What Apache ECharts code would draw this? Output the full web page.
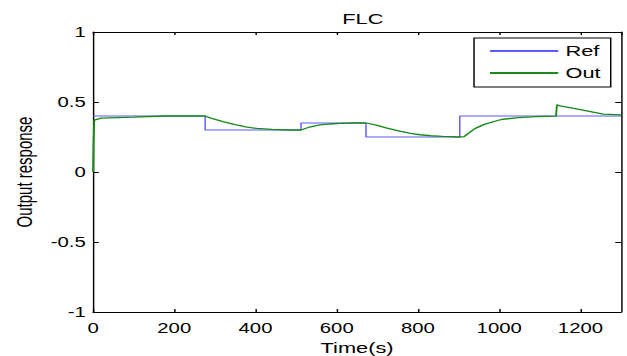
<!DOCTYPE html>
<html>
<head>
<meta charset="utf-8">
<script src="https://cdn.jsdelivr.net/npm/echarts@6/dist/echarts.min.js"></script>
<style>
  html, body { margin: 0; padding: 0; background: #fff; overflow: hidden; }
  /* the original figure is a MATLAB plot stretched sideways, so draw narrow and stretch */
  #chart { width: 432px; height: 356px; transform: scaleX(1.4514); transform-origin: 0 0; }
</style>
</head>
<body>
<div id="chart"></div>
<script>
// reference signal: step changes (time, value)
const refTime = [0, 276, 276, 512, 512, 672, 672, 903, 903, 1300];
const refValue = [0.4, 0.4, 0.3, 0.3, 0.35, 0.35, 0.25, 0.25, 0.4, 0.4];

// FLC output
const outTime = [0, 1, 3, 20, 100, 180, 276, 290, 320, 350, 379, 403, 440, 480, 512, 530, 559, 585, 608, 640, 672, 695, 724, 755, 782, 805, 832, 860, 903, 913, 940, 963, 1005, 1047, 1090, 1140, 1142, 1150, 1200, 1256, 1300];
const outValue = [0, 0.2, 0.37, 0.385, 0.392, 0.4, 0.4, 0.385, 0.36, 0.338, 0.321, 0.311, 0.304, 0.3, 0.3, 0.318, 0.336, 0.343, 0.347, 0.35, 0.35, 0.336, 0.314, 0.292, 0.276, 0.266, 0.259, 0.254, 0.25, 0.252, 0.31, 0.34, 0.375, 0.389, 0.395, 0.399, 0.479, 0.472, 0.445, 0.413, 0.408];

const xTicks = [0, 200, 400, 600, 800, 1000, 1200];
const yTicks = [-1, -0.5, 0, 0.5, 1];

const font = "'Liberation Sans', Arial, sans-serif";
const chart = echarts.init(document.getElementById("chart"), null, { renderer: "svg" });

const pairs = (xs, ys) => xs.map((x, i) => [x, ys[i]]);

const axisLine = { show: true, onZero: false, lineStyle: { color: "#000", width: 1 } };

chart.setOption({
    backgroundColor: "#fff",
    animation: false,
    title: {
        text: "FLC",
        left: 245,
        top: 6,
        textAlign: "center",
        textStyle: { fontFamily: font, fontSize: 15, fontWeight: "normal", color: "#000" },
    },
    legend: {
        left: 326.6,
        top: 38,
        orient: "vertical",
        data: ["Ref", "Out"],
        backgroundColor: "#fff",
        borderColor: "#000",
        borderWidth: 1,
        borderRadius: 0,
        padding: [5, 7, 6, 10],
        itemWidth: 47,
        itemHeight: 14,
        itemGap: 6,
        itemStyle: { opacity: 0 },
        textStyle: { fontFamily: font, fontSize: 15, lineHeight: 16, color: "#000" },
    },
    grid: { left: 64.1, right: 4.1, top: 32, bottom: 44, outerBoundsMode: "none" },
    xAxis: [
        {
            type: "value",
            min: 0,
            max: 1300,
            interval: 200,
            position: "bottom",
            name: "Time(s)",
            nameLocation: "middle",
            nameGap: 26,
            nameTextStyle: { fontFamily: font, fontSize: 15, color: "#000" },
            axisLine,
            axisTick: { show: true, inside: true, length: 3, lineStyle: { color: "#000" } },
            splitLine: { show: false },
            axisLabel: {
                show: true,
                margin: 9,
                showMaxLabel: false,
                fontFamily: font,
                fontSize: 14,
                color: "#000",
                formatter: (v) => (xTicks.includes(v) ? String(v) : ""),
            },
        },
        {
            type: "value",
            min: 0,
            max: 1300,
            interval: 200,
            position: "top",
            axisLine,
            axisTick: { show: true, inside: true, length: 3, lineStyle: { color: "#000" } },
            splitLine: { show: false },
            axisLabel: { show: false },
        },
    ],
    yAxis: [
        {
            type: "value",
            min: -1,
            max: 1,
            interval: 0.5,
            position: "left",
            name: "Output response",
            nameLocation: "middle",
            nameGap: 37,
            nameTextStyle: { fontFamily: font, fontSize: 15, color: "#000" },
            axisLine,
            axisTick: { show: true, inside: true, length: 4, lineStyle: { color: "#000" } },
            splitLine: { show: false },
            axisLabel: {
                show: true,
                margin: 5,
                fontFamily: font,
                fontSize: 14,
                color: "#000",
                formatter: (v) => (yTicks.includes(v) ? String(v) : ""),
            },
        },
        {
            type: "value",
            min: -1,
            max: 1,
            interval: 0.5,
            position: "right",
            axisLine,
            axisTick: { show: true, inside: true, length: 4, lineStyle: { color: "#000" } },
            splitLine: { show: false },
            axisLabel: { show: false },
        },
    ],
    series: [
        {
            name: "Ref",
            type: "line",
            xAxisIndex: 0,
            yAxisIndex: 0,
            symbol: "none",
            color: "#5a5aff",
            lineStyle: { width: 1, color: "#5a5aff" },
            data: pairs(refTime, refValue),
        },
        {
            name: "Out",
            type: "line",
            xAxisIndex: 0,
            yAxisIndex: 0,
            symbol: "none",
            color: "#1a8a1a",
            lineStyle: { width: 1.3, color: "#1a8a1a" },
            data: pairs(outTime, outValue),
        },
    ],
});

window.addEventListener("resize", () => chart.resize());
</script>
</body>
</html>
